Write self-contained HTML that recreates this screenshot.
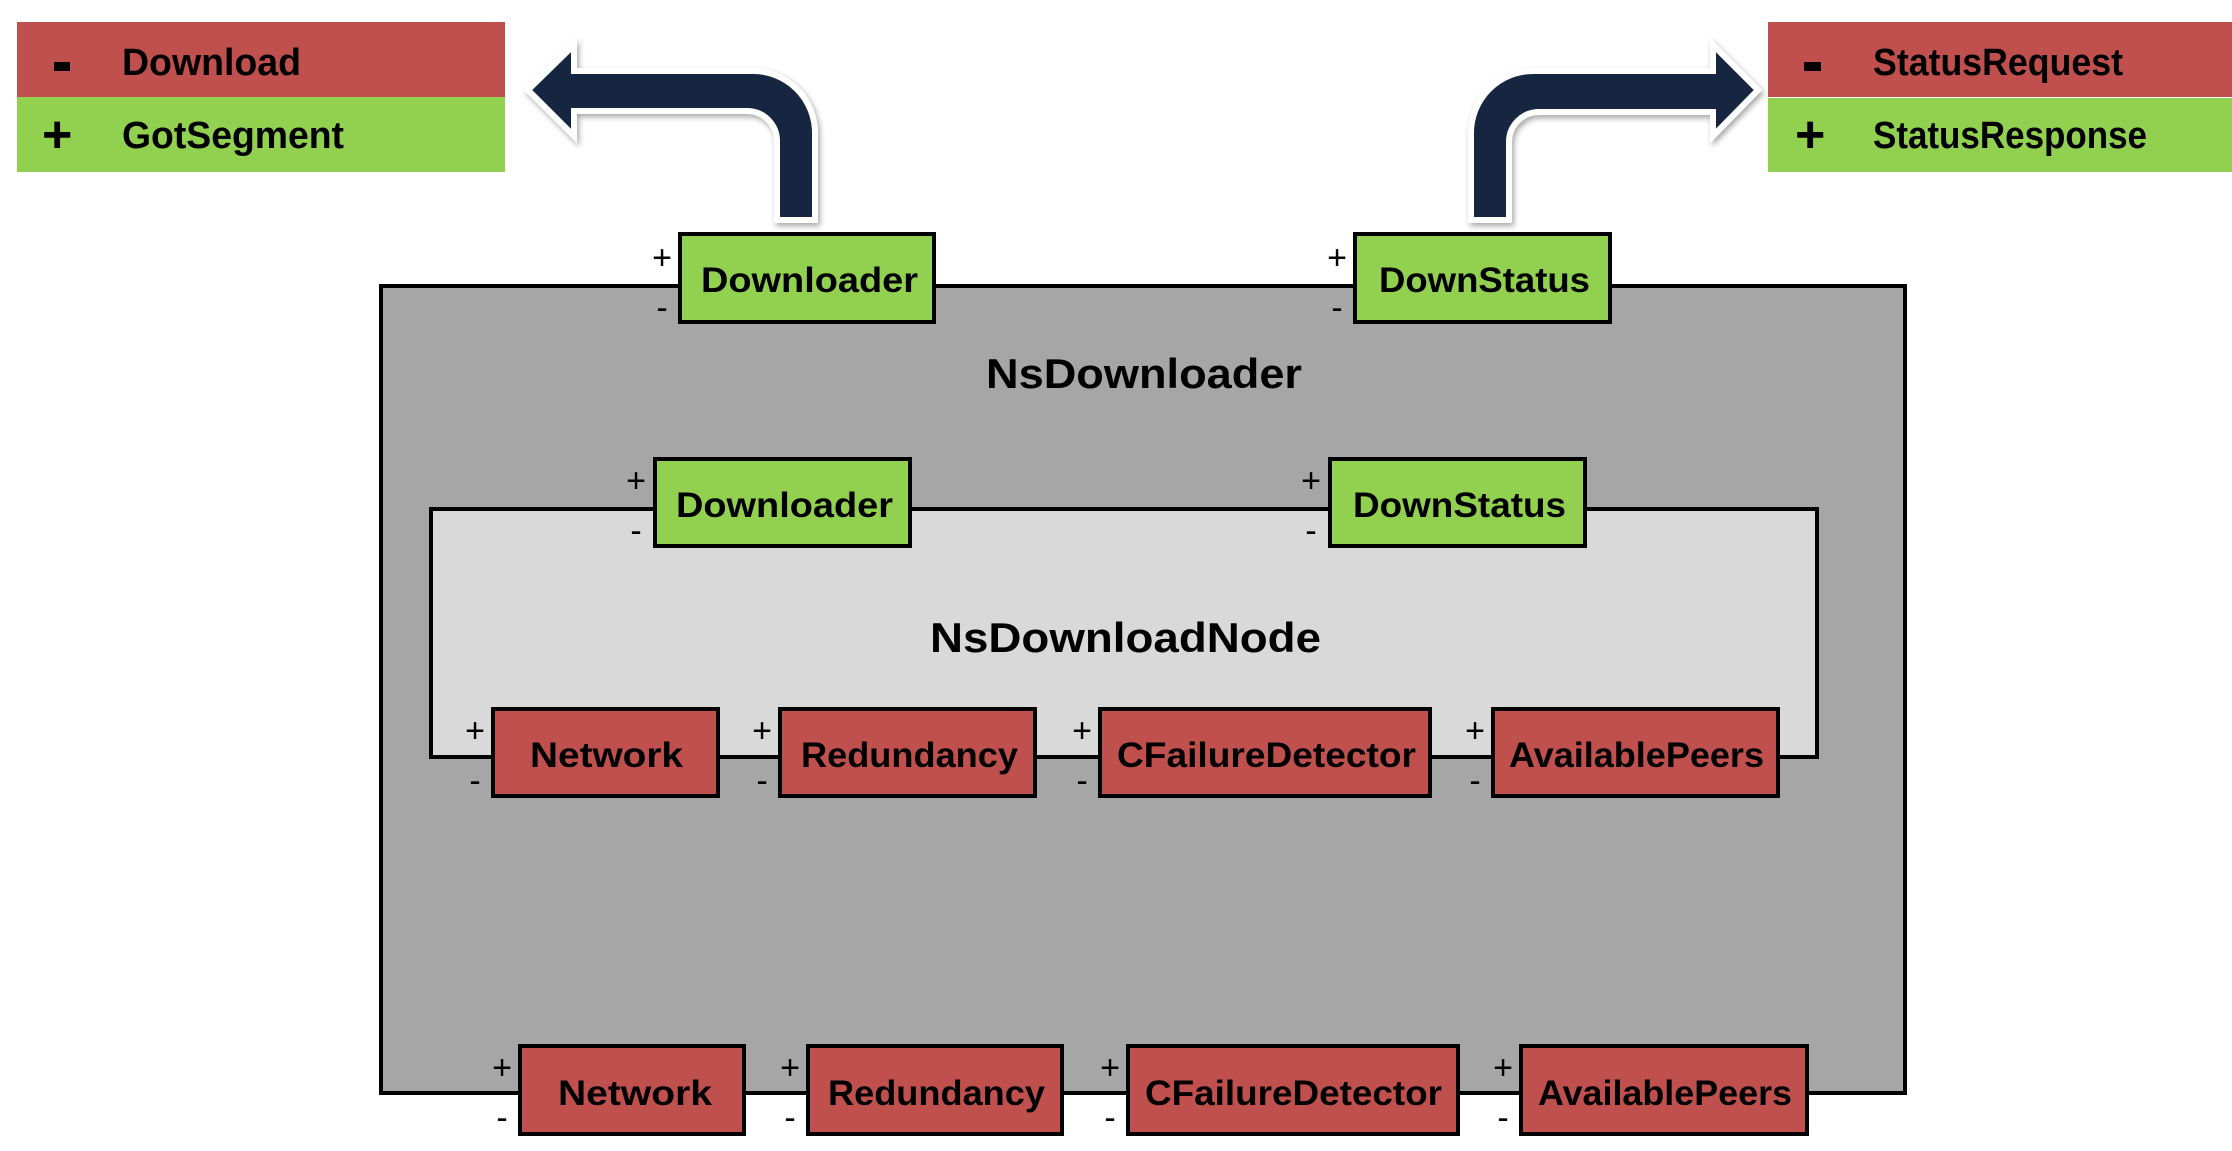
<!DOCTYPE html>
<html><head><meta charset="utf-8"><style>
html,body{margin:0;padding:0;background:#fff;}
svg{display:block;}
text{font-family:"Liberation Sans",sans-serif;font-weight:bold;fill:#000;}
text.pm{font-weight:normal;font-size:34px;}
</style></head><body>
<svg width="2232" height="1151" viewBox="0 0 2232 1151" xmlns="http://www.w3.org/2000/svg">
<defs>
<filter id="sh" x="-20%" y="-20%" width="140%" height="140%">
<feDropShadow dx="2" dy="3" stdDeviation="3" flood-color="#000" flood-opacity="0.35"/>
</filter>
</defs>
<!-- Legends -->
<rect x="17" y="22" width="488" height="75" fill="#c0504d"/>
<rect x="17" y="97" width="488" height="75" fill="#92d050"/>
<rect x="54" y="62" width="16" height="9" fill="#000"/>
<text x="122" y="75" style="font-size:38px" textLength="179" lengthAdjust="spacingAndGlyphs">Download</text>
<text x="42" y="152" style="font-size:52px">+</text>
<text x="122" y="148" style="font-size:38px" textLength="222" lengthAdjust="spacingAndGlyphs">GotSegment</text>

<rect x="1768" y="22" width="464" height="75" fill="#c0504d"/>
<rect x="1768" y="98" width="464" height="74" fill="#92d050"/>
<rect x="1804" y="62" width="17" height="9" fill="#000"/>
<text x="1795" y="152" style="font-size:52px">+</text>
<text x="1873" y="75" style="font-size:38px" textLength="250" lengthAdjust="spacingAndGlyphs">StatusRequest</text>
<text x="1873" y="148" style="font-size:38px" textLength="274" lengthAdjust="spacingAndGlyphs">StatusResponse</text>

<!-- Arrows -->
<path d="M777,220 L815,220 L815,133 A62,62 0 0 0 753,71 L574,71 L574,45 L528,90 L574,136 L574,111 L747,111 A30,30 0 0 1 777,141 Z" fill="#13263f" stroke="#fff" stroke-width="6" stroke-linejoin="miter" filter="url(#sh)"/>
<path d="M1471,220 L1509,220 L1509,142 A30,30 0 0 1 1539,112 L1713,112 L1713,136 L1758,90 L1713,45 L1713,71 L1533,71 A62,62 0 0 0 1471,133 Z" fill="#13263f" stroke="#fff" stroke-width="6" stroke-linejoin="miter" filter="url(#sh)"/>

<!-- Outer box -->
<rect x="381" y="286" width="1524" height="807" fill="#a6a6a6" stroke="#000" stroke-width="4"/>
<text x="986" y="388" style="font-size:42px" textLength="316" lengthAdjust="spacingAndGlyphs">NsDownloader</text>

<!-- Inner box -->
<rect x="431" y="509" width="1386" height="248" fill="#d9d9d9" stroke="#000" stroke-width="4"/>
<text x="930" y="652" style="font-size:42px" textLength="391" lengthAdjust="spacingAndGlyphs">NsDownloadNode</text>

<g stroke="#000" stroke-width="4">
<rect x="680" y="234" width="254" height="88" fill="#92d050"/>
<rect x="1355" y="234" width="255" height="88" fill="#92d050"/>
<rect x="655" y="459" width="255" height="87" fill="#92d050"/>
<rect x="1330" y="459" width="255" height="87" fill="#92d050"/>
<rect x="493" y="709" width="225" height="87" fill="#c0504d"/>
<rect x="780" y="709" width="255" height="87" fill="#c0504d"/>
<rect x="1100" y="709" width="330" height="87" fill="#c0504d"/>
<rect x="1493" y="709" width="285" height="87" fill="#c0504d"/>
<rect x="520" y="1046" width="224" height="88" fill="#c0504d"/>
<rect x="808" y="1046" width="254" height="88" fill="#c0504d"/>
<rect x="1128" y="1046" width="330" height="88" fill="#c0504d"/>
<rect x="1521" y="1046" width="286" height="88" fill="#c0504d"/>
</g>
<g style="font-size:35px">
<text x="701" y="292" textLength="217" lengthAdjust="spacingAndGlyphs">Downloader</text>
<text x="1379" y="292" textLength="211" lengthAdjust="spacingAndGlyphs">DownStatus</text>
<text x="676" y="517" textLength="217" lengthAdjust="spacingAndGlyphs">Downloader</text>
<text x="1353" y="517" textLength="213" lengthAdjust="spacingAndGlyphs">DownStatus</text>
<text x="530" y="767" textLength="153" lengthAdjust="spacingAndGlyphs">Network</text>
<text x="801" y="767" textLength="217" lengthAdjust="spacingAndGlyphs">Redundancy</text>
<text x="1117" y="767" textLength="299" lengthAdjust="spacingAndGlyphs">CFailureDetector</text>
<text x="1509" y="767" textLength="255" lengthAdjust="spacingAndGlyphs">AvailablePeers</text>
<text x="558" y="1105" textLength="154" lengthAdjust="spacingAndGlyphs">Network</text>
<text x="828" y="1105" textLength="217" lengthAdjust="spacingAndGlyphs">Redundancy</text>
<text x="1145" y="1105" textLength="297" lengthAdjust="spacingAndGlyphs">CFailureDetector</text>
<text x="1538" y="1105" textLength="254" lengthAdjust="spacingAndGlyphs">AvailablePeers</text>
</g>
<g text-anchor="middle">
<text class="pm" x="662" y="269">+</text><text class="pm" x="662" y="319">-</text>
<text class="pm" x="1337" y="269">+</text><text class="pm" x="1337" y="319">-</text>
<text class="pm" x="636" y="492">+</text><text class="pm" x="636" y="542">-</text>
<text class="pm" x="1311" y="492">+</text><text class="pm" x="1311" y="542">-</text>
<text class="pm" x="475" y="742">+</text><text class="pm" x="475" y="792">-</text>
<text class="pm" x="762" y="742">+</text><text class="pm" x="762" y="792">-</text>
<text class="pm" x="1082" y="742">+</text><text class="pm" x="1082" y="792">-</text>
<text class="pm" x="1475" y="742">+</text><text class="pm" x="1475" y="792">-</text>
<text class="pm" x="502" y="1079">+</text><text class="pm" x="502" y="1129">-</text>
<text class="pm" x="790" y="1079">+</text><text class="pm" x="790" y="1129">-</text>
<text class="pm" x="1110" y="1079">+</text><text class="pm" x="1110" y="1129">-</text>
<text class="pm" x="1503" y="1079">+</text><text class="pm" x="1503" y="1129">-</text>
</g>
</svg>
</body></html>
